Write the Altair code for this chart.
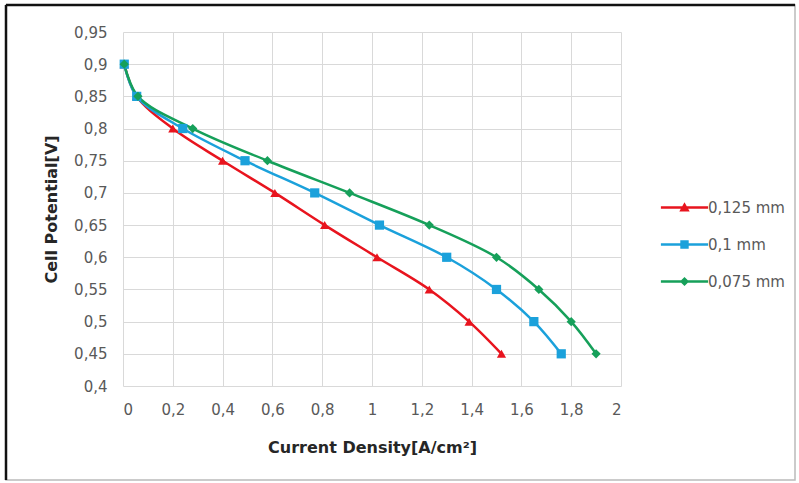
import altair as alt
import pandas as pd

series_names = ["0,125 mm", "0,1 mm", "0,075 mm"]
potential = [0.9, 0.85, 0.8, 0.75, 0.7, 0.65, 0.6, 0.55, 0.5, 0.45]
density_0125 = [0.005, 0.055, 0.20, 0.40, 0.61, 0.81, 1.02, 1.23, 1.39, 1.52]
density_01 = [0.005, 0.055, 0.24, 0.49, 0.77, 1.03, 1.30, 1.50, 1.65, 1.76]
density_0075 = [0.005, 0.06, 0.28, 0.58, 0.91, 1.23, 1.50, 1.67, 1.80, 1.90]
x_ticks = [0, 0.2, 0.4, 0.6, 0.8, 1.0, 1.2, 1.4, 1.6, 1.8, 2.0]
y_ticks = [0.4, 0.45, 0.5, 0.55, 0.6, 0.65, 0.7, 0.75, 0.8, 0.85, 0.9, 0.95]
colors = ["#E8141E", "#1BA1DB", "#16A05A"]
marker_shapes = ["triangle-up", "square", "diamond"]
legend_paths = [
    "M-5.9,-0.3H5.9V0.3H-5.9Z M0,-1.3L1.3,1H-1.3Z",
    "M-5.9,-0.3H5.9V0.3H-5.9Z M-1.05,-1.05H1.05V1.05H-1.05Z",
    "M-5.9,-0.3H5.9V0.3H-5.9Z M0,-1.15L1.15,0L0,1.15L-1.15,0Z",
]

rows = []
for name, dens in zip(series_names, [density_0125, density_01, density_0075]):
    for i, (xv, yv) in enumerate(zip(dens, potential)):
        rows.append({"series": name, "x": xv, "y": yv, "idx": i})
df = pd.DataFrame(rows)

FONT = "DejaVu Sans"

x_enc = alt.X("x:Q", scale=alt.Scale(domain=[0, 2], nice=False),
              axis=alt.Axis(values=x_ticks, title="Current Density[A/cm²]",
                            labelExpr="replace(format(datum.value, '.1~f'), '.', ',')"))
y_enc = alt.Y("y:Q", scale=alt.Scale(domain=[0.4, 0.95], nice=False, zero=False),
              axis=alt.Axis(values=y_ticks, title="Cell Potential[V]",
                            labelExpr="replace(format(datum.value, '.2~f'), '.', ',')"))

color_scale = alt.Scale(domain=series_names, range=colors)

lines = alt.Chart(df).mark_line(interpolate="catmull-rom", strokeWidth=2.5).encode(
    x=x_enc, y=y_enc,
    color=alt.Color("series:N", scale=color_scale, legend=None),
    order="idx:Q",
)

points = alt.Chart(df).mark_point(filled=True, opacity=1, size=85).encode(
    x=x_enc, y=y_enc,
    color=alt.Color("series:N", scale=color_scale, legend=None),
    shape=alt.Shape("series:N", scale=alt.Scale(domain=series_names, range=marker_shapes), legend=None),
)

legend_layer = alt.Chart(df).transform_filter("datum.y > 10").mark_point(filled=True, opacity=1).encode(
    x=x_enc, y=y_enc,
    color=alt.Color("series:N", scale=color_scale,
                    legend=alt.Legend(title=None, orient="none", legendX=554, legendY=168)),
    shape=alt.Shape("series:N", scale=alt.Scale(domain=series_names, range=legend_paths),
                    legend=alt.Legend(title=None, orient="none", legendX=554, legendY=168)),
)

frame = alt.Chart(alt.Data(values=[{}])).mark_rect(fill=None, stroke="#BBBBBB", strokeWidth=1.5).encode(
    x=alt.value(-117), x2=alt.value(672), y=alt.value(-27), y2=alt.value(448)
)
top_rule = alt.Chart(alt.Data(values=[{}])).mark_rule(color="#111111", strokeWidth=2.5).encode(
    x=alt.value(-117), x2=alt.value(672), y=alt.value(-27)
)
left_rule = alt.Chart(alt.Data(values=[{}])).mark_rule(color="#111111", strokeWidth=2.5).encode(
    x=alt.value(-117), y=alt.value(-27), y2=alt.value(448)
)

chart = alt.layer(frame, top_rule, left_rule, lines, points, legend_layer).resolve_scale(
    color="independent", shape="independent"
).properties(
    width=498, height=354,
    padding={"left": 123, "top": 32, "right": 178, "bottom": 97},
    autosize="none",
    background="white",
).configure_view(stroke=None).configure_axis(
    grid=True, gridColor="#D9D9D9", gridWidth=1, domain=False, ticks=False,
    labelFont=FONT, labelFontSize=15, labelColor="#595959",
    titleFont=FONT, titleFontSize=16, titleFontWeight="bold", titleColor="#262626",
).configure_axisX(labelPadding=16, titlePadding=22).configure_axisY(labelPadding=16, titlePadding=14).configure_legend(
    labelFont=FONT, labelFontSize=15, labelColor="#595959", labelOffset=16,
    symbolSize=64, symbolStrokeWidth=0, rowPadding=21,
)

chart.save("out.html", embed_options={"renderer": "svg", "actions": False})
